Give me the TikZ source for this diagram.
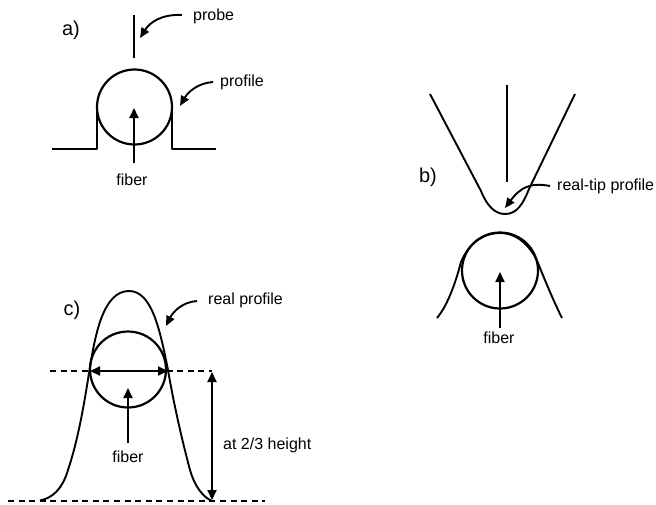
\documentclass[tikz,border=0pt]{standalone}
\usepackage{fontspec}
\setmainfont{Liberation Sans}
\usetikzlibrary{arrows.meta}
\tikzset{
  line/.style={line width=2.1pt,black},
  thin line/.style={line width=1.9pt,black},
  circ/.style={draw,line width=2.2pt,circle,inner sep=0pt},
  arr/.style={line width=2pt,-{Triangle[length=10pt,width=9pt]}},
  darr/.style={line width=2pt,{Triangle[length=10pt,width=9pt]}-{Triangle[length=10pt,width=9pt]}},
  curvearr/.style={line width=1.9pt,-{Triangle[length=10pt,width=8.5pt]}},
  dash line/.style={line width=2.4pt,dash pattern=on 6pt off 4.6pt},
  lbl/.style={font=\fontsize{16}{18}\selectfont,inner sep=0pt},
  letter/.style={font=\fontsize{20}{22}\selectfont,inner sep=0pt},
}
\begin{document}
\begin{tikzpicture}[x=1pt,y=-1pt]
\useasboundingbox (0,0) rectangle (656,504);
% ---- a
\node[letter] (la) at (71,30) {a)};
\node[lbl,anchor=west] (tprobe) at (193,16) {probe};
\node[lbl,anchor=west] (tprofile) at (220,82) {profile};
\node[lbl] (tfa) at (132,180) {fiber};
\coordinate (pa1) at (134,15);
\coordinate (pa2) at (134,58);
\draw[line] (pa1) -- (pa2);
\node[circ,minimum size=75pt] (ca) at (134.5,107) {};
\draw[line,line join=round] (52,149) -- (97,149) -- (97,105);
\draw[line,line join=round] (172,105) -- (172,149) -- (216,149);
\coordinate (fa0) at (134,163);
\coordinate (fa1) at (134,108);
\draw[arr] (fa0) -- (fa1);
\coordinate (apr0) at (182,15);
\coordinate (apr1) at (140,38);
\draw[curvearr] (apr0) .. controls (162,14) and (150,22) .. (apr1);
\coordinate (apf0) at (213,82);
\coordinate (apf1) at (180,106);
\draw[curvearr] (apf0) .. controls (198,83) and (188,92) .. (apf1);
% ---- b
\node[letter] (lb) at (428,177) {b)};
\node[lbl,anchor=west] (trt) at (557,186) {real-tip profile};
\node[lbl] (tfb) at (499,338) {fiber};
\draw[line] (507,85) -- (507,182);
\draw[thin line] (430,94) -- (481,191)
  .. controls (487,206) and (495,214) .. (505,214)
  .. controls (517,214) and (523,204) .. (529,189) -- (575,94);
\node[circ,minimum size=76pt] (cb) at (500,270.5) {};
\draw[thin line] (437,318) .. controls (447,306) and (455,285) .. (461,262)
  .. controls (468,245) and (482,233) .. (500,233)
  .. controls (518,233) and (531,247) .. (538,263)
  .. controls (546,283) and (554,302) .. (562,318);
\coordinate (fb0) at (500,328);
\coordinate (fb1) at (500,272);
\draw[arr] (fb0) -- (fb1);
\coordinate (art0) at (550,186);
\coordinate (art1) at (505,208);
\draw[curvearr] (art0) .. controls (530,182) and (520,188) .. (art1);
% ---- c
\node[letter] (lc) at (72,310) {c)};
\node[lbl,anchor=west] (trp) at (208,300) {real profile};
\node[lbl,anchor=west] (th) at (223,445) {at 2/3 height};
\node[lbl] (tfc) at (128,457) {fiber};
\node[circ,minimum size=76pt] (cc) at (128,369.5) {};
\draw[thin line] (40,500.5) .. controls (52,498) and (62,490) .. (68,470)
  .. controls (78,440) and (84,405) .. (89,373)
  .. controls (95,335) and (103,291) .. (129,291)
  .. controls (152,291) and (160,330) .. (168,370)
  .. controls (174,405) and (182,440) .. (190,470)
  .. controls (195,487) and (203,497) .. (212,501);
\draw[dash line] (50,371) -- (212,371);
\draw[dash line] (8,501) -- (265,501);
\coordinate (h0) at (90,371);
\coordinate (h1) at (168,371);
\draw[darr] (h0) -- (h1);
\coordinate (v0) at (212,372);
\coordinate (v1) at (212,500);
\draw[darr] (v0) -- (v1);
\coordinate (fc0) at (128,443);
\coordinate (fc1) at (128,388);
\draw[arr] (fc0) -- (fc1);
\coordinate (arp0) at (197,301);
\coordinate (arp1) at (166,326);
\draw[curvearr] (arp0) .. controls (182,302) and (173,312) .. (arp1);
\end{tikzpicture}
\end{document}
